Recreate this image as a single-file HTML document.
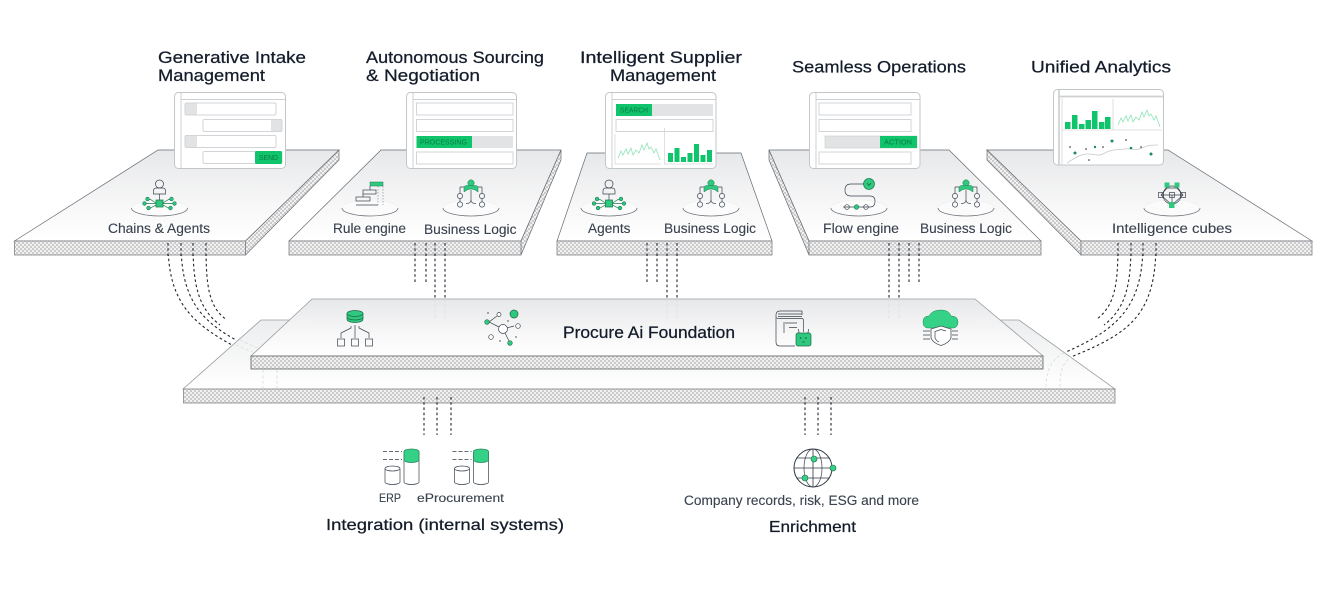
<!DOCTYPE html>
<html><head><meta charset="utf-8"><style>
html,body{margin:0;padding:0;background:#fff;width:1328px;height:604px;overflow:hidden}
svg{display:block}
text{font-family:"Liberation Sans",sans-serif}
.t{font-size:17px;fill:#141c2b;stroke:#141c2b;stroke-width:.25}
.l{font-size:13.5px;fill:#39424e;stroke:#39424e;stroke-width:.12}
.c{font-size:7px;fill:#0b7a45}
.i{fill:none;stroke:#3a434d;stroke-width:.7}
.d{fill:none;stroke:#20262e;stroke-width:1.1;stroke-dasharray:2.6 2.6}
.f{fill:none;stroke:#dcdddf;stroke-width:.9;stroke-dasharray:3 2.4}
.cd{fill:#fff;stroke:#c3c6c9;stroke-width:1}
.r{fill:#fff;stroke:#d2d4d7;stroke-width:1}
.s{fill:#e1e3e5}
.g{fill:#0fc46b}
.ln{fill:none;stroke:#8fe3b8;stroke-width:.8}
.h{stroke:#cdd0d3;stroke-width:1;fill:none}
</style></head><body>
<svg width="1328" height="604" viewBox="0 0 1328 604" xmlns="http://www.w3.org/2000/svg">
<defs>
<pattern id="dt" width="4" height="4" patternUnits="userSpaceOnUse">
<rect width="4" height="4" fill="#f1f1f1"/><rect width="2" height="2" fill="#cbcbcb"/><rect x="2" y="2" width="2" height="2" fill="#cbcbcb"/>
</pattern>
<linearGradient id="gr" x1="0" y1="0" x2="0" y2="1"><stop offset="0" stop-color="#e7e8e9"/><stop offset=".6" stop-color="#f7f7f8"/><stop offset="1" stop-color="#fff"/></linearGradient>
<linearGradient id="gl" x1="0" y1="0" x2="0" y2="1"><stop offset="0" stop-color="#ecedee"/><stop offset="1" stop-color="#fff"/></linearGradient>
<g id="el"><ellipse cx="0" cy="0" rx="28" ry="8" fill="#fbfbfb" stroke="#eceded" stroke-width=".6"/><path d="M-28 0A28 8 0 0 0 28 0" fill="none" stroke="#70767d" stroke-width=".8"/></g>
<g id="ag">
<circle cx="0" cy="-24" r="4" class="i" fill="#fff"/>
<path class="i" d="M-6 -14v-3q0-3 3-3h6q3 0 3 3v3zM0 -14v6"/>
<path d="M-3.5 -8H3.500V-1H-3.500Z" fill="#2ec97f" stroke="#1d7a50" stroke-width=".8"/>
<path d="M-3.500 -5L-9 -8.500H-13M-3.500 -4.500H-14M-3.500 -3L-9 0H-12M3.500 -5L9 -8.500H13M3.500 -4.500H14M3.500 -3L9 0H12" fill="none" stroke="#1d7a50" stroke-width=".7"/>
<g fill="#2ec97f" stroke="#1d7a50" stroke-width=".6"><circle cx="-12" cy="-9" r="1.800"/><circle cx="-15" cy="-4.500" r="1.800"/><circle cx="-11" cy="0" r="1.800"/><circle cx="12" cy="-9" r="1.800"/><circle cx="15" cy="-4.500" r="1.800"/><circle cx="11" cy="0" r="1.800"/></g>
</g>
<g id="bl">
<path class="i" d="M-11 -21V-14.500M11 -21V-14.500M-7 -21H-11M7 -21H11M-11 -9.500V-6.500M11 -9.500V-6.500M0 -18V-8M0 -8Q0 -4.500 -5 -4.500M0 -8Q0 -4.500 5 -4.500"/>
<circle cx="0" cy="-25" r="3.200" fill="#2ec97f" stroke="#1d7a50" stroke-width=".5"/>
<path d="M-7 -16V-20Q-7 -22.500 -4 -22.500H4Q7 -22.500 7 -20V-16L4 -18Q0 -20 -4 -18Z" fill="#2ec97f" stroke="#1d7a50" stroke-width=".5"/>
<circle cx="-11" cy="-12" r="2.600" class="i" fill="#fff"/><circle cx="11" cy="-12" r="2.600" class="i" fill="#fff"/>
<circle cx="-11" cy="-3.500" r="2.600" class="i" fill="#fff"/><circle cx="11" cy="-3.500" r="2.600" class="i" fill="#fff"/>
</g>
<g id="ln2"><polyline class="ln" points="0,17 3,10 5,14 8,8 10,13 13,7 15,14 18,9 21,12 24,4 26,9 29,2 31,8 33,6 36,12 38,8 41,16 42,19"/></g>
</defs>

<!-- connectors behind -->
<path class="d" d="M168 243C168 300 190 322 232 345"/>
<path class="d" d="M181 243C181 298 200 320 236 340"/>
<path class="d" d="M193 243C193 285 198 308 220 325"/>
<path class="d" d="M206 243C206 285 208 307 227 320"/>
<path class="d" d="M415 243V283M426 243V283M435 243V299M445 243V299"/>
<path class="d" d="M647 243V283M657 243V283M667 243V299M677 243V299"/>
<path class="d" d="M889 243V299M899 243V299M909 243V283M919 243V283"/>
<path class="d" d="M1118 243C1118 285 1115 305 1097 319"/>
<path class="d" d="M1131 243C1131 285 1126 308 1104 325"/>
<path class="d" d="M1143 243C1143 305 1120 328 1066 352"/>
<path class="d" d="M1156 243C1156 315 1130 333 1071 357"/>
<path class="d" d="M424 397V435M437 397V435M451 397V435M805 397V435M818 397V435M831 397V435"/>

<!-- lower foundation plate -->
<path d="M261 320H1019L1115 389H183Z" fill="url(#gl)" stroke="#9a9da1" stroke-width=".8"/>
<rect x="183.500" y="389" width="931.500" height="14" fill="url(#dt)" stroke="#8d9094" stroke-width=".9"/>
<path class="f" d="M236 345L262 356M240 340L270 354M263 370V388M277 370V388M1046 387C1046 370 1052 358 1066 352M1060 387C1060 372 1062 364 1071 357"/>

<!-- foundation plate -->
<path d="M312 299H975L1043 356H251Z" fill="url(#gr)" stroke="#9a9da1" stroke-width=".8"/>
<rect x="251" y="356" width="792" height="13" fill="url(#dt)" stroke="#6d7075" stroke-width=".9"/>
<path class="f" d="M435 299V320M445 299V320M667 299V320M677 299V320M889 299V320M899 299V320"/>
<path d="M312 320H975" stroke="#f0f1f2" stroke-width=".8"/>

<!-- five platforms -->
<path d="M158 150H339L245.500 241H14.500Z" fill="url(#gr)" stroke="#666c73" stroke-width=".7"/>
<path d="M339 150V160L245.500 255V241Z" fill="url(#dt)" stroke="#666c73" stroke-width=".7"/>
<rect x="14.500" y="241" width="231" height="14" fill="url(#dt)" stroke="#7d8287" stroke-width=".8"/>

<path d="M381 150H561L521 241H289Z" fill="url(#gr)" stroke="#666c73" stroke-width=".7"/>
<path d="M561 150V160L521 255V241Z" fill="url(#dt)" stroke="#666c73" stroke-width=".7"/>
<rect x="289" y="241" width="232" height="14" fill="url(#dt)" stroke="#7d8287" stroke-width=".8"/>

<path d="M587 153H741L772 241H557Z" fill="url(#gr)" stroke="#666c73" stroke-width=".7"/>
<rect x="557" y="241" width="215" height="14" fill="url(#dt)" stroke="#7d8287" stroke-width=".8"/>

<path d="M769 150H949L1041 241H809Z" fill="url(#gr)" stroke="#666c73" stroke-width=".7"/>
<path d="M769 150V160L809 255V241Z" fill="url(#dt)" stroke="#666c73" stroke-width=".7"/>
<rect x="809" y="241" width="232" height="14" fill="url(#dt)" stroke="#7d8287" stroke-width=".8"/>

<path d="M987 150H1168L1312 241H1081Z" fill="url(#gr)" stroke="#666c73" stroke-width=".7"/>
<path d="M987 150V160L1081 255V241Z" fill="url(#dt)" stroke="#666c73" stroke-width=".7"/>
<rect x="1081" y="241" width="231" height="14" fill="url(#dt)" stroke="#7d8287" stroke-width=".8"/>

<!-- connector tops over front faces -->
<path class="d" d="M168 243V256M181 243V256M193 243V256M206 243V256M415 243V256M426 243V256M435 243V256M445 243V256M647 243V256M657 243V256M667 243V256M677 243V256M889 243V256M899 243V256M909 243V256M919 243V256M1118 243V256M1131 243V256M1143 243V256M1156 243V256"/>
<path class="d" d="M424 397V404M437 397V404M451 397V404M805 397V404M818 397V404M831 397V404"/>

<!-- Card 1 -->
<rect class="cd" x="174.500" y="92.500" width="111" height="76" rx="4"/>
<path class="h" d="M181 93V168M181 99.500H285"/>
<rect class="r" x="185" y="103" width="91" height="12" rx="1.500"/><rect class="s" x="185.500" y="103.500" width="11.500" height="11"/>
<rect class="r" x="203" y="119.500" width="79" height="12" rx="1.500"/><rect class="s" x="271" y="120" width="10.500" height="11"/>
<rect class="r" x="185" y="135.500" width="91" height="12" rx="1.500"/><rect class="s" x="185.500" y="136" width="11.500" height="11"/>
<rect class="r" x="203" y="151.500" width="79" height="12" rx="1.500"/><rect class="g" x="255" y="151" width="27" height="13" rx="1.500"/>
<text class="c" x="259" y="160" textLength="19" lengthAdjust="spacingAndGlyphs">SEND</text>

<!-- Card 2 -->
<rect class="cd" x="406.500" y="92.500" width="110" height="76" rx="4"/>
<path class="h" d="M413 93V168M413 99.500H516"/>
<rect class="r" x="416.500" y="103" width="96.500" height="12"/>
<rect class="r" x="416.500" y="119.500" width="96.500" height="12"/>
<rect class="s" x="416.500" y="136" width="96.500" height="12"/><rect class="g" x="416.500" y="136" width="55.500" height="12"/>
<text class="c" x="420" y="144.500" textLength="47" lengthAdjust="spacingAndGlyphs">PROCESSING</text>
<rect class="r" x="416.500" y="152" width="96.500" height="12"/>

<!-- Card 3 -->
<rect class="cd" x="605.500" y="92.500" width="110.500" height="76" rx="4"/>
<path class="h" d="M612 93V168M612 99.500H716"/>
<rect class="s" x="616" y="104" width="97" height="12"/><rect class="g" x="616" y="104" width="36" height="12"/>
<text class="c" x="620" y="112.500" textLength="28" lengthAdjust="spacingAndGlyphs">SEARCH</text>
<rect class="r" x="616" y="119.500" width="97" height="12"/>
<path d="M615 134V164H661M664.500 128V164H713" fill="none" stroke="#d5d7d9" stroke-width=".8"/>
<use href="#ln2" x="618" y="141"/>
<g class="g"><rect x="668" y="153" width="5" height="9"/><rect x="674.500" y="148" width="5" height="14"/><rect x="681" y="157" width="5" height="5"/><rect x="687.500" y="153" width="5" height="9"/><rect x="694" y="144" width="5" height="18"/><rect x="700.500" y="155" width="5" height="7"/><rect x="707" y="150" width="5" height="12"/></g>

<!-- Card 4 -->
<rect class="cd" x="809.500" y="92.500" width="110.500" height="76" rx="4"/>
<path class="h" d="M816 93V168M816 99.500H920"/>
<rect class="r" x="819" y="103" width="92" height="12"/>
<rect class="r" x="819" y="119.500" width="92" height="12"/>
<rect class="s" x="825" y="136" width="92" height="12" stroke="#c9cccf" stroke-width=".6"/><rect class="g" x="880" y="136" width="37" height="12"/>
<text class="c" x="884" y="144.500" textLength="28" lengthAdjust="spacingAndGlyphs">ACTION</text>
<rect class="r" x="819" y="152" width="92" height="12"/>

<!-- Card 5 -->
<rect class="cd" x="1053.500" y="89.500" width="110" height="75.500" rx="4"/>
<path d="M1059 90V165M1059.500 96.500H1163" fill="none" stroke="#cfd1d4" stroke-width="1.800"/>
<path d="M1062 98V165M1113 99V130M1062 130H1162" fill="none" stroke="#d5d7d9" stroke-width=".8"/>
<g class="g"><rect x="1065" y="122" width="5.500" height="7"/><rect x="1072" y="115" width="5.500" height="14"/><rect x="1079" y="124" width="5.500" height="5"/><rect x="1085.500" y="120" width="5.500" height="9"/><rect x="1092" y="111" width="5.500" height="18"/><rect x="1099" y="122" width="5.500" height="7"/><rect x="1105" y="117" width="5.500" height="12"/></g>
<use href="#ln2" x="1118" y="108"/>
<path d="M1067 163C1075 158 1080 154 1088 154S1098 157 1105 153 1118 150 1125 149 1136 151 1142 148 1152 145 1158 145" fill="none" stroke="#c5c8cb" stroke-width=".8"/>
<g fill="#1c8a5c"><circle cx="1075" cy="153" r="1.500"/><circle cx="1095" cy="147" r="1.200"/><circle cx="1112" cy="141" r="1.500"/><circle cx="1131" cy="148" r="1.300"/><circle cx="1151" cy="154" r="1.500"/></g>
<g fill="#222"><circle cx="1070" cy="147" r=".8"/><circle cx="1086" cy="149" r=".8"/><circle cx="1089" cy="160" r=".8"/><circle cx="1103" cy="147" r=".8"/><circle cx="1126" cy="140" r=".8"/><circle cx="1141" cy="147" r=".8"/></g>

<!-- ellipses -->
<use href="#el" x="159.500" y="208"/><use href="#el" x="370" y="208"/><use href="#el" x="471" y="208"/>
<use href="#el" x="609" y="208"/><use href="#el" x="711" y="208"/><use href="#el" x="859" y="208"/>
<use href="#el" x="966" y="208"/><use href="#el" x="1172" y="208"/>

<!-- platform icons -->
<use href="#ag" x="159.500" y="208"/>
<use href="#ag" x="609" y="208"/>
<use href="#bl" x="471" y="208"/><use href="#bl" x="711" y="208"/><use href="#bl" x="966" y="208"/>
<g>
<rect x="370" y="182" width="13" height="4" fill="#2ec97f" stroke="#1d7a50" stroke-width=".5"/>
<rect x="363" y="190" width="13" height="4" class="i"/>
<rect x="356" y="197" width="14" height="4" class="i"/>
<path class="i" d="M356 205H378M363 194V197M370 186V190"/>
<path d="M378 186V205M383 186V205" fill="none" stroke="#8a9098" stroke-width=".7" stroke-dasharray="1.500 1.500"/>
</g>
<g>
<path class="i" d="M864 184H851Q845 184 845 190Q845 196 851 196H870Q875 196 875 201Q875 207 870 207H843"/>
<circle cx="869" cy="184" r="5.500" fill="#2ec97f" stroke="#1d7a50" stroke-width=".7"/>
<path d="M867 183L869 185.500L871 183" fill="none" stroke="#1d5a3c" stroke-width=".7"/>
<circle cx="847" cy="207" r="2.300" class="i" fill="#fff"/><circle cx="856.500" cy="207" r="2.300" fill="#2ec97f" stroke="#1d7a50" stroke-width=".6"/><circle cx="866" cy="207" r="2.300" class="i" fill="#fff"/>
</g>
<g>
<circle cx="1172" cy="195" r="9" class="i"/>
<path class="i" d="M1167 188L1161 195L1172 205L1183 195L1177 188M1161 195H1183M1167 188H1177M1172 195V205"/>
<rect x="1164.500" y="182.500" width="5" height="5" fill="#2ec97f"/><rect x="1174.500" y="182.500" width="5" height="5" fill="#2ec97f"/>
<rect x="1158.500" y="192.500" width="5" height="5" class="i" fill="#fff"/><rect x="1169.500" y="192.500" width="5" height="5" class="i" fill="#fff"/><rect x="1180.500" y="192.500" width="5" height="5" class="i" fill="#fff"/>
<rect x="1169" y="202" width="5.500" height="6" fill="#2ec97f"/>
</g>

<!-- foundation icons -->
<g>
<path d="M347 313.500A8 3 0 0 1 363 313.500V319.500A8 3 0 0 1 347 319.500Z" fill="#2ec97f" stroke="#1d6a48" stroke-width=".7"/>
<path d="M347 313.500A8 3 0 0 0 363 313.500M347 317A8 3 0 0 0 363 317" fill="none" stroke="#1d6a48" stroke-width=".7"/>
<path class="i" d="M355 325V338M351 326V328L341 333V338M359 326V328L369 333V338"/>
<rect x="337.500" y="339" width="7" height="7" class="i"/><rect x="351.500" y="339" width="7" height="7" class="i"/><rect x="365.500" y="339" width="7" height="7" class="i"/>
</g>
<g>
<path class="i" d="M503 329L489 322L497 316M503 329L514 326M503 329L510 343"/>
<circle cx="503" cy="329" r="4.500" stroke="#3a434d" stroke-width=".7" fill="#fff"/>
<circle cx="514" cy="314" r="4" fill="#2ec97f" stroke="#1d6a48" stroke-width=".7"/>
<circle cx="499" cy="314.500" r="2" stroke="#3a434d" stroke-width=".7" fill="#fff"/>
<circle cx="487" cy="322" r="2.300" fill="#2ec97f" stroke="#1d6a48" stroke-width=".6"/>
<circle cx="518" cy="326" r="2.300" stroke="#3a434d" stroke-width=".7" fill="#fff"/>
<circle cx="491" cy="337" r="2.300" stroke="#3a434d" stroke-width=".7" fill="#fff"/>
<circle cx="510" cy="343" r="2.300" fill="#2ec97f" stroke="#1d6a48" stroke-width=".6"/>
<g fill="#2f3842"><circle cx="488" cy="313" r=".7"/><circle cx="508" cy="321" r=".7"/><circle cx="516" cy="337" r=".7"/><circle cx="500" cy="341" r=".7"/></g>
</g>
<g>
<path class="i" d="M802 311H780Q776 311 776 315V342Q776 346 780 346H795M802 311V315M778 314H802M778 316.500H802M780 318.500H802Q803.500 318.500 803.500 321V332M776 317Q776 318.500 780 318.500M784 322V333M785 323H797M789 327.500H797"/>
<rect x="796" y="333" width="15" height="13" rx="2" fill="#2ec97f" stroke="#1d6a48" stroke-width=".7"/>
<path d="M799 333L798.500 329M808 333L808.500 329" stroke="#2f3842" stroke-width=".7"/>
<circle cx="800.500" cy="338" r=".8" fill="#1d5a3c"/><circle cx="806" cy="338" r=".8" fill="#1d5a3c"/><path d="M802 342H805" stroke="#1d5a3c" stroke-width=".7"/>
</g>
<g>
<path d="M927 328Q923 327 923 322Q923 316 929 316Q932 310 941 310Q949 310 951 316Q958 316 958 322Q958 327 954 328Z" fill="#34d186" stroke="#24875b" stroke-width=".5"/>
<path d="M941 326L951 329V338Q949 343 941 345.500Q933 343 931 338V329Z" fill="#fff" stroke="#4a525b" stroke-width=".8"/>
<path class="i" d="M946 331L941 329.500L935 331.500V338Q936.500 341 939 342M923 331H930M923 335H930M923 339H930M952 331H958M952 335H958M952 339H958"/>
</g>

<!-- bottom icons -->
<g id="cy">
<path class="i" d="M385 468.500A7.500 2.500 0 0 1 400 468.500V482A7.500 2.500 0 0 1 385 482ZM385 468.500A7.500 2.500 0 0 0 400 468.500"/>
<path class="i" d="M404 451.500V482A7.500 2.500 0 0 0 419 482V451.500"/>
<path d="M404 451.500A7.500 2.500 0 0 1 419 451.500V460A7.500 2.500 0 0 1 404 460Z" fill="#34d186" stroke="#24875b" stroke-width=".7"/>
<path d="M383 451.500H402M383 459.500H402" stroke="#2f3842" stroke-width=".8" stroke-dasharray="4 2" fill="none"/>
</g>
<use href="#cy" x="69.500"/>
<g>
<circle cx="813" cy="468" r="19" fill="#fff" stroke="#2f3842" stroke-width="1"/>
<ellipse cx="813" cy="468" rx="9" ry="19" class="i"/>
<path d="M794 468H832M797 458H829M797 478H829M813 449V487" stroke="#2f3842" stroke-width=".8" fill="none"/>
<circle cx="814" cy="459" r="3" fill="#34d186" stroke="#1d6a48" stroke-width=".6"/>
<circle cx="833" cy="468" r="3" fill="#34d186" stroke="#1d6a48" stroke-width=".6"/>
<circle cx="805" cy="478" r="3" fill="#34d186" stroke="#1d6a48" stroke-width=".6"/>
</g>

<!-- titles -->
<text class="t" x="158" y="63" textLength="148" lengthAdjust="spacingAndGlyphs">Generative Intake</text>
<text class="t" x="158" y="81" textLength="107" lengthAdjust="spacingAndGlyphs">Management</text>
<text class="t" x="366" y="63" textLength="178" lengthAdjust="spacingAndGlyphs">Autonomous Sourcing</text>
<text class="t" x="366" y="81" textLength="114" lengthAdjust="spacingAndGlyphs">&amp; Negotiation</text>
<text class="t" x="580" y="63" textLength="162" lengthAdjust="spacingAndGlyphs">Intelligent Supplier</text>
<text class="t" x="610" y="81" textLength="106" lengthAdjust="spacingAndGlyphs">Management</text>
<text class="t" x="792" y="72.500" textLength="174" lengthAdjust="spacingAndGlyphs">Seamless Operations</text>
<text class="t" x="1031" y="72.500" textLength="140" lengthAdjust="spacingAndGlyphs">Unified Analytics</text>

<!-- labels -->
<text class="l" x="108" y="233" textLength="102" lengthAdjust="spacingAndGlyphs">Chains &amp; Agents</text>
<text class="l" x="333" y="233" textLength="73" lengthAdjust="spacingAndGlyphs">Rule engine</text>
<text class="l" x="424" y="234" textLength="92.500" lengthAdjust="spacingAndGlyphs">Business Logic</text>
<text class="l" x="588" y="233" textLength="42.500" lengthAdjust="spacingAndGlyphs">Agents</text>
<text class="l" x="664" y="233" textLength="92" lengthAdjust="spacingAndGlyphs">Business Logic</text>
<text class="l" x="823" y="233" textLength="76" lengthAdjust="spacingAndGlyphs">Flow engine</text>
<text class="l" x="920" y="233" textLength="92" lengthAdjust="spacingAndGlyphs">Business Logic</text>
<text class="l" x="1112" y="233" textLength="120" lengthAdjust="spacingAndGlyphs">Intelligence cubes</text>
<text class="t" x="563" y="338" textLength="172" lengthAdjust="spacingAndGlyphs">Procure Ai Foundation</text>
<text class="l" x="379" y="502" textLength="22" lengthAdjust="spacingAndGlyphs" style="font-size:12px">ERP</text>
<text class="l" x="417" y="502" textLength="87" lengthAdjust="spacingAndGlyphs" style="font-size:12px">eProcurement</text>
<text class="l" x="684" y="505" textLength="235" lengthAdjust="spacingAndGlyphs">Company records, risk, ESG and more</text>
<text class="t" x="326" y="530" textLength="238" lengthAdjust="spacingAndGlyphs" style="font-size:16px">Integration (internal systems)</text>
<text class="t" x="769" y="532" textLength="87" lengthAdjust="spacingAndGlyphs" style="font-size:16px">Enrichment</text>
</svg>
</body></html>
